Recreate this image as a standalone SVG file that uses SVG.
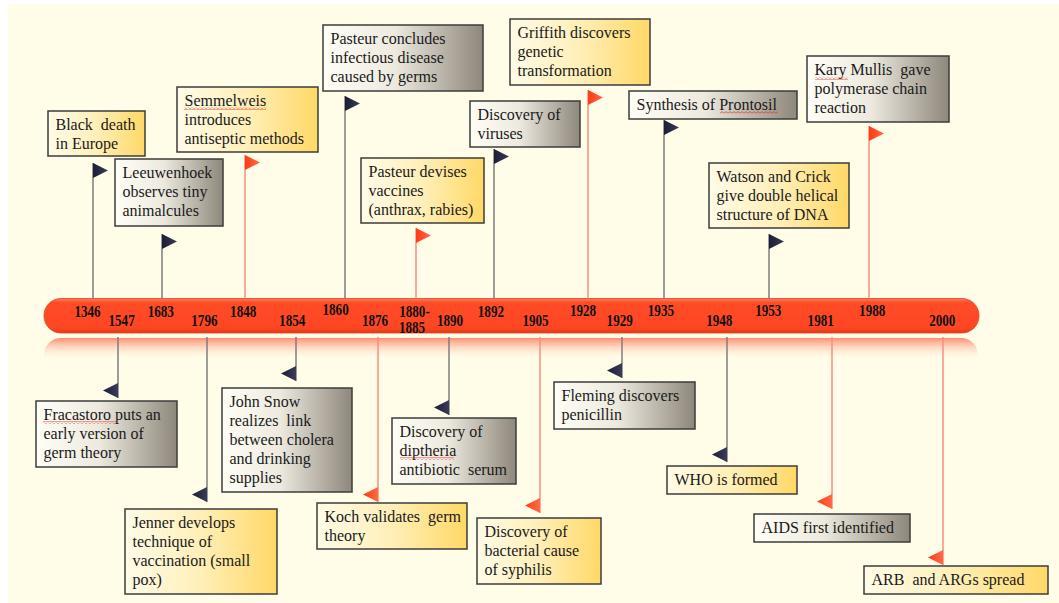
<svg xmlns="http://www.w3.org/2000/svg" width="1059" height="603" viewBox="0 0 1059 603">
<defs>
<linearGradient id="gGold" x1="0" y1="0" x2="1" y2="0"><stop offset="0" stop-color="#FFFBE8"/><stop offset="0.5" stop-color="#FFEFB8"/><stop offset="1" stop-color="#FFD866"/></linearGradient>
<linearGradient id="gGray" x1="0" y1="0" x2="1" y2="0"><stop offset="0" stop-color="#FFFEF6"/><stop offset="0.45" stop-color="#EDE9DF"/><stop offset="1" stop-color="#8E877B"/></linearGradient>
<linearGradient id="gBar" x1="0" y1="0" x2="0" y2="1"><stop offset="0" stop-color="#FF7A5C"/><stop offset="0.12" stop-color="#FF4C26"/><stop offset="0.85" stop-color="#FF4622"/><stop offset="1" stop-color="#E0381A"/></linearGradient>
<linearGradient id="gRefl" x1="0" y1="0" x2="0" y2="1"><stop offset="0" stop-color="#FF7A5A" stop-opacity="0.85"/><stop offset="1" stop-color="#FFFDE7" stop-opacity="0"/></linearGradient>
<linearGradient id="gNavy" x1="0" y1="0" x2="1" y2="0"><stop offset="0" stop-color="#1C1E36"/><stop offset="1" stop-color="#3A3C58"/></linearGradient>
<linearGradient id="gRed" x1="0" y1="0" x2="1" y2="0"><stop offset="0" stop-color="#FF3A14"/><stop offset="1" stop-color="#FF6A48"/></linearGradient>
<pattern id="squig" patternUnits="userSpaceOnUse" width="4" height="3"><polyline points="0,2.5 2,0.5 4,2.5" fill="none" stroke="#E02020" stroke-width="0.8"/></pattern>
<style>
.gold{fill:url(#gGold);stroke:#3C3C3C;stroke-width:1.5}
.gray{fill:url(#gGray);stroke:#3C3C3C;stroke-width:1.5}
.t{font-family:"Liberation Serif","Times New Roman",serif;font-size:16px;fill:#1A1A1A;white-space:pre}
.yr{font-family:"Liberation Serif","Times New Roman",serif;font-weight:bold;font-size:16px;fill:#111;text-anchor:middle}
.pg{stroke:#7E7E7E;stroke-width:1.5;fill:none}
.pr{stroke:#F4917E;stroke-width:1.5;fill:none}
.fn{fill:url(#gNavy)}
.fr{fill:url(#gRed)}
.sq{fill:url(#squig)}
</style>
</defs>
<rect x="0" y="0" width="1059" height="603" fill="#FFFFFF"/>
<rect x="8" y="4" width="1051" height="599" fill="#FFFDE8"/>

<g id="timeline">
<path d="M61,338 H961 A17,17 0 0 1 978,355 V360 H44 V355 A17,17 0 0 1 61,338 Z" fill="url(#gRefl)"/>
<rect x="44" y="298.5" width="935" height="34.5" rx="17" ry="17" fill="url(#gBar)" stroke="#D84422" stroke-width="0.8"/>
<g class="yr">
<text transform="translate(87.5,316.5) scale(0.82,1)">1346</text>
<text transform="translate(121.6,325.6) scale(0.82,1)">1547</text>
<text transform="translate(160.8,316.5) scale(0.82,1)">1683</text>
<text transform="translate(204.4,325.6) scale(0.82,1)">1796</text>
<text transform="translate(243.2,316.5) scale(0.82,1)">1848</text>
<text transform="translate(292.2,325.6) scale(0.82,1)">1854</text>
<text transform="translate(335.6,315) scale(0.82,1)">1860</text>
<text transform="translate(375,325.6) scale(0.82,1)">1876</text>
<text transform="translate(414.5,316.5) scale(0.82,1)">1880-</text>
<text transform="translate(412,333) scale(0.82,1)">1885</text>
<text transform="translate(450,325.6) scale(0.82,1)">1890</text>
<text transform="translate(490.9,316.5) scale(0.82,1)">1892</text>
<text transform="translate(535.5,325.6) scale(0.82,1)">1905</text>
<text transform="translate(583,316) scale(0.82,1)">1928</text>
<text transform="translate(619.7,325.6) scale(0.82,1)">1929</text>
<text transform="translate(660.9,316) scale(0.82,1)">1935</text>
<text transform="translate(719.3,325.6) scale(0.82,1)">1948</text>
<text transform="translate(768.3,316) scale(0.82,1)">1953</text>
<text transform="translate(820.7,325.6) scale(0.82,1)">1981</text>
<text transform="translate(872.2,316) scale(0.82,1)">1988</text>
<text transform="translate(942.3,325.6) scale(0.82,1)">2000</text>
</g>
</g>

<g id="connectors">
<line class="pg" x1="93" y1="163" x2="93" y2="298.5"/><polygon class="fn" points="93,163 108,170.5 93,178"/>
<line class="pg" x1="162" y1="234" x2="162" y2="298.5"/><polygon class="fn" points="162,234 177,241.5 162,249"/>
<line class="pr" x1="245" y1="155" x2="245" y2="298.5"/><polygon class="fr" points="245,155 260,162.5 245,170"/>
<line class="pg" x1="345" y1="96" x2="345" y2="298.5"/><polygon class="fn" points="345,96 360,103.5 345,111"/>
<line class="pr" x1="416" y1="228" x2="416" y2="298.5"/><polygon class="fr" points="416,228 431,235.5 416,243"/>
<line class="pr" x1="588" y1="90" x2="588" y2="298.5"/><polygon class="fr" points="588,90 603,97.5 588,105"/>
<line class="pg" x1="494" y1="149" x2="494" y2="298.5"/><polygon class="fn" points="494,149 509,156.5 494,164"/>
<line class="pg" x1="664" y1="120" x2="664" y2="298.5"/><polygon class="fn" points="664,120 679,127.5 664,135"/>
<line class="pr" x1="869" y1="126" x2="869" y2="298.5"/><polygon class="fr" points="869,126 884,133.5 869,141"/>
<line class="pg" x1="769" y1="234" x2="769" y2="298.5"/><polygon class="fn" points="769,234 784,241.5 769,249"/>

<line class="pg" x1="118" y1="337" x2="118" y2="398"/><polygon class="fn" points="118,383 103,390.5 118,398"/>
<line class="pg" x1="296" y1="337" x2="296" y2="381"/><polygon class="fn" points="296,366 281,373.5 296,381"/>
<line class="pg" x1="207" y1="337" x2="207" y2="502"/><polygon class="fn" points="207,487 192,494.5 207,502"/>
<line class="pr" x1="378" y1="337" x2="378" y2="502"/><polygon class="fr" points="378,487 363,494.5 378,502"/>
<line class="pg" x1="449" y1="337" x2="449" y2="415"/><polygon class="fn" points="449,400 434,407.5 449,415"/>
<line class="pr" x1="540" y1="337" x2="540" y2="513"/><polygon class="fr" points="540,498 525,505.5 540,513"/>
<line class="pg" x1="622" y1="337" x2="622" y2="378"/><polygon class="fn" points="622,363 607,370.5 622,378"/>
<line class="pg" x1="727" y1="337" x2="727" y2="462"/><polygon class="fn" points="727,447 712,454.5 727,462"/>
<line class="pr" x1="832" y1="337" x2="832" y2="509"/><polygon class="fr" points="832,494 817,501.5 832,509"/>
<line class="pr" x1="943" y1="337" x2="943" y2="565"/><polygon class="fr" points="943,550 928,557.5 943,565"/>
</g>

<g id="n1346"><rect class="gold" x="48" y="111" width="97" height="45"/><text class="t" x="55.5" y="129.5">Black  death<tspan x="55.5" dy="19">in Europe</tspan></text></g>
<g id="n1683"><rect class="gray" x="115" y="159" width="108" height="67"/><text class="t" x="122.5" y="177.5">Leeuwenhoek<tspan x="122.5" dy="19">observes tiny</tspan><tspan x="122.5" dy="19">animalcules</tspan></text></g>
<g id="n1848"><rect class="gold" x="177" y="87" width="141" height="65"/><text class="t" x="184.5" y="105.5">Semmelweis<tspan x="184.5" dy="19">introduces</tspan><tspan x="184.5" dy="19">antiseptic methods</tspan></text><rect class="sq" x="184" y="107" width="82" height="3"/></g>
<g id="n1860"><rect class="gray" x="323" y="25" width="160" height="66"/><text class="t" x="330.5" y="43.5">Pasteur concludes<tspan x="330.5" dy="19">infectious disease</tspan><tspan x="330.5" dy="19">caused by germs</tspan></text></g>
<g id="n1880"><rect class="gold" x="361" y="158" width="123" height="65"/><text class="t" x="368.5" y="176.5">Pasteur devises<tspan x="368.5" dy="19">vaccines</tspan><tspan x="368.5" dy="19">(anthrax, rabies)</tspan></text></g>
<g id="n1928"><rect class="gold" x="510" y="19" width="140" height="66"/><text class="t" x="517.5" y="37.5">Griffith discovers<tspan x="517.5" dy="19">genetic</tspan><tspan x="517.5" dy="19">transformation</tspan></text></g>
<g id="n1892"><rect class="gray" x="470" y="101" width="110" height="46"/><text class="t" x="477.5" y="119.5">Discovery of<tspan x="477.5" dy="19">viruses</tspan></text></g>
<g id="n1935"><rect class="gray" x="629" y="91" width="168" height="28"/><text class="t" x="636.5" y="109.5">Synthesis of Prontosil</text><rect class="sq" x="720" y="111" width="58" height="3"/></g>
<g id="n1988"><rect class="gray" x="807" y="56" width="142" height="66"/><text class="t" x="814.5" y="74.5">Kary Mullis  gave<tspan x="814.5" dy="19">polymerase chain</tspan><tspan x="814.5" dy="19">reaction</tspan></text><rect class="sq" x="815" y="77" width="33" height="3"/></g>
<g id="n1953"><rect class="gold" x="709" y="163" width="140" height="65"/><text class="t" x="716.5" y="181.5">Watson and Crick<tspan x="716.5" dy="19">give double helical</tspan><tspan x="716.5" dy="19">structure of DNA</tspan></text></g>

<g id="n1547"><rect class="gray" x="36" y="401" width="141" height="66"/><text class="t" x="43.5" y="419.5">Fracastoro puts an<tspan x="43.5" dy="19">early version of</tspan><tspan x="43.5" dy="19">germ theory</tspan></text><rect class="sq" x="43" y="421" width="74" height="3"/></g>
<g id="n1854"><rect class="gray" x="222" y="388" width="130" height="104"/><text class="t" x="229.5" y="406.5">John Snow<tspan x="229.5" dy="19">realizes  link</tspan><tspan x="229.5" dy="19">between cholera</tspan><tspan x="229.5" dy="19">and drinking</tspan><tspan x="229.5" dy="19">supplies</tspan></text></g>
<g id="n1796"><rect class="gold" x="125" y="509" width="152" height="85"/><text class="t" x="132.5" y="527.5">Jenner develops<tspan x="132.5" dy="19">technique of</tspan><tspan x="132.5" dy="19">vaccination (small</tspan><tspan x="132.5" dy="19">pox)</tspan></text></g>
<g id="n1876"><rect class="gold" x="317" y="503" width="150" height="46"/><text class="t" x="324.5" y="521.5">Koch validates  germ<tspan x="324.5" dy="19">theory</tspan></text></g>
<g id="n1890"><rect class="gray" x="392" y="418" width="124" height="66"/><text class="t" x="399.5" y="436.5">Discovery of<tspan x="399.5" dy="19">diptheria</tspan><tspan x="399.5" dy="19">antibiotic  serum</tspan></text><rect class="sq" x="400" y="457" width="54" height="3"/></g>
<g id="n1905"><rect class="gold" x="477" y="518" width="124" height="66"/><text class="t" x="484.5" y="536.5">Discovery of<tspan x="484.5" dy="19">bacterial cause</tspan><tspan x="484.5" dy="19">of syphilis</tspan></text></g>
<g id="n1929"><rect class="gray" x="554" y="382" width="141" height="47"/><text class="t" x="561.5" y="400.5">Fleming discovers<tspan x="561.5" dy="19">penicillin</tspan></text></g>
<g id="n1948"><rect class="gold" x="667" y="466" width="130" height="28"/><text class="t" x="674.5" y="484.5">WHO is formed</text></g>
<g id="n1981"><rect class="gray" x="754" y="514" width="156" height="28"/><text class="t" x="761.5" y="532.5">AIDS first identified</text></g>
<g id="n2000"><rect class="gold" x="864" y="566" width="184" height="28"/><text class="t" x="871.5" y="584.5">ARB  and ARGs spread</text></g>
</svg>
